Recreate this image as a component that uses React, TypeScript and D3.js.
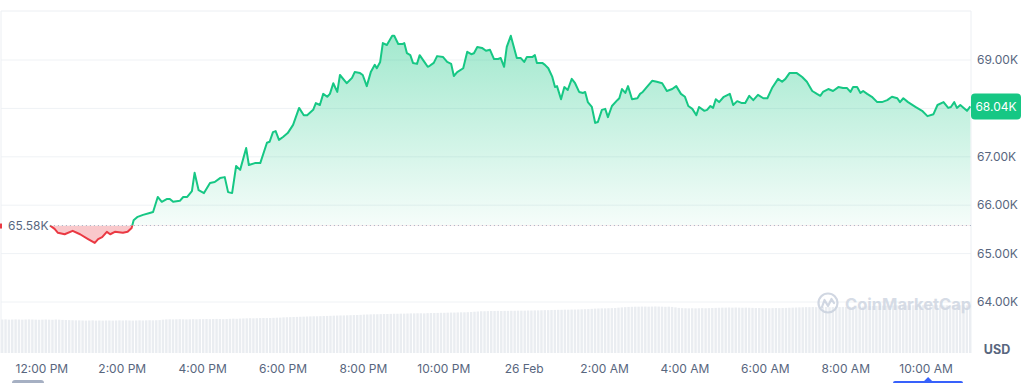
import React from "react";
import * as d3 from "d3";

// Price series: minutes after 12:00 PM (25 Feb) and price in thousands USD
const minutes = [
  12, 19, 24, 34, 46, 57, 69, 79, 84, 90, 97, 102, 109, 121, 128, 134, 137, 143, 151, 161,
  166, 173, 179, 187, 191, 196, 206, 211, 217, 224, 228, 234, 242, 251, 258, 266, 273, 278, 284, 290,
  296, 305, 309, 318, 326, 336, 340, 345, 349, 354, 360, 367, 375, 384, 391, 396, 405, 409, 415, 420,
  426, 430, 435, 441, 445, 455, 463, 467, 475, 479, 485, 491, 497, 500, 505, 509, 515, 523, 526, 532,
  538, 541, 545, 550, 554, 560, 564, 572, 576, 579, 585, 590, 599, 605, 611, 615, 620, 629, 635, 641,
  645, 650, 657, 663, 669, 675, 681, 685, 690, 694, 700, 709, 715, 720, 724, 732, 736, 739, 747, 751,
  756, 762, 766, 769, 775, 780, 785, 791, 796, 802, 808, 811, 815, 821, 826, 830, 836, 841, 845, 851,
  859, 862, 866, 871, 875, 881, 889, 893, 897, 903, 911, 918, 926, 933, 941, 947, 954, 960, 965, 971,
  977, 981, 989, 993, 998, 1002, 1006, 1011, 1018, 1027, 1032, 1038, 1045, 1050, 1056, 1062, 1069, 1077, 1083, 1090,
  1099, 1105, 1110, 1116, 1127, 1135, 1142, 1150, 1157, 1162, 1166, 1174, 1181, 1189, 1196, 1202, 1207, 1211, 1217, 1222,
  1226, 1232, 1239, 1247, 1254, 1262, 1269, 1277, 1281, 1286, 1293, 1304, 1314, 1322, 1331, 1337, 1346, 1353, 1357, 1362,
  1366, 1371, 1381, 1386,
];
const prices = [
  65.58, 65.51, 65.43, 65.40, 65.47, 65.40, 65.30, 65.22, 65.30, 65.34, 65.45, 65.40, 65.45, 65.43, 65.45, 65.53, 65.69, 65.76, 65.80, 65.84,
  65.86, 66.17, 66.07, 66.13, 66.13, 66.07, 66.09, 66.17, 66.17, 66.29, 66.67, 66.31, 66.25, 66.46, 66.48, 66.56, 66.58, 66.27, 66.25, 66.81,
  66.73, 67.18, 66.83, 66.87, 66.87, 67.29, 67.31, 67.51, 67.53, 67.35, 67.41, 67.49, 67.66, 68.01, 67.86, 67.86, 67.97, 68.11, 68.07, 68.30,
  68.24, 68.30, 68.52, 68.34, 68.69, 68.52, 68.63, 68.75, 68.73, 68.69, 68.46, 68.75, 68.90, 68.83, 68.96, 69.35, 69.31, 69.50, 69.50, 69.33,
  69.33, 69.35, 69.14, 69.10, 68.94, 68.92, 69.10, 68.94, 68.86, 68.88, 68.94, 69.08, 69.06, 68.96, 68.92, 68.67, 68.75, 68.83, 69.17, 69.12,
  69.14, 69.27, 69.25, 69.19, 69.21, 69.02, 69.02, 69.04, 68.86, 69.27, 69.50, 69.04, 69.04, 68.96, 69.06, 69.06, 69.10, 68.94, 68.94, 68.90,
  68.83, 68.65, 68.44, 68.46, 68.19, 68.44, 68.38, 68.61, 68.52, 68.34, 68.32, 68.34, 68.13, 68.03, 67.70, 67.72, 67.97, 67.99, 67.82, 68.05,
  68.17, 68.21, 68.40, 68.32, 68.46, 68.19, 68.21, 68.30, 68.34, 68.44, 68.57, 68.55, 68.52, 68.36, 68.40, 68.46, 68.30, 68.24, 68.05, 67.99,
  67.86, 68.03, 67.95, 67.97, 68.05, 68.01, 68.19, 68.13, 68.24, 68.30, 68.07, 68.15, 68.11, 68.11, 68.26, 68.17, 68.28, 68.21, 68.21, 68.42,
  68.61, 68.55, 68.61, 68.73, 68.73, 68.65, 68.55, 68.36, 68.30, 68.26, 68.34, 68.40, 68.36, 68.44, 68.42, 68.42, 68.34, 68.44, 68.44, 68.32,
  68.36, 68.30, 68.24, 68.13, 68.13, 68.17, 68.24, 68.21, 68.13, 68.21, 68.13, 68.03, 67.95, 67.84, 67.88, 68.07, 68.13, 68.01, 68.03, 68.13,
  68.01, 68.07, 67.95, 68.04,
];

// 5-minute volume bars (billions USD), one row per hour, first bar at -61 min
const volumes = [
  27.9, 28.0, 27.8, 27.9, 28.0, 27.9, 27.8, 27.9, 28.0, 27.9, 27.8, 27.7,
  27.8, 27.9, 27.8, 27.7, 27.9, 27.8, 27.6, 27.5, 27.4, 27.3, 27.2, 27.2,
  27.1, 27.0, 27.1, 27.2, 27.0, 27.1, 27.0, 27.1, 27.1, 27.0, 27.1, 27.2,
  27.1, 27.2, 27.1, 27.0, 27.1, 27.2, 27.1, 27.2, 27.3, 27.2, 27.3, 27.4,
  27.8, 28.0, 28.1, 28.0, 28.1, 28.2, 28.1, 28.0, 28.1, 28.2, 28.1, 28.2,
  28.2, 28.3, 28.2, 28.3, 28.4, 28.3, 28.2, 28.3, 28.5, 28.6, 28.5, 28.7,
  28.8, 28.9, 29.0, 28.9, 29.0, 29.1, 29.2, 29.1, 29.2, 29.3, 29.4, 29.5,
  29.7, 29.8, 29.9, 30.0, 30.1, 30.2, 30.3, 30.4, 30.5, 30.6, 30.6, 30.7,
  30.8, 30.9, 31.0, 31.1, 31.2, 31.3, 31.3, 31.4, 31.5, 31.6, 31.7, 31.8,
  32.0, 32.1, 32.2, 32.3, 32.3, 32.4, 32.5, 32.5, 32.6, 32.7, 32.7, 32.8,
  32.8, 32.9, 33.0, 33.0, 33.1, 33.1, 33.0, 33.2, 33.3, 33.3, 33.4, 33.5,
  33.5, 33.6, 33.7, 33.7, 33.8, 33.9, 33.9, 34.0, 34.2, 34.4, 34.6, 34.8,
  34.8, 34.9, 35.0, 35.0, 35.1, 35.0, 35.1, 35.1, 35.2, 35.2, 35.3, 35.3,
  35.3, 35.4, 35.4, 35.5, 35.5, 35.6, 35.7, 35.7, 35.8, 35.9, 36.0, 36.0,
  36.1, 36.1, 36.2, 36.2, 36.3, 36.4, 36.5, 36.6, 36.8, 37.0, 37.1, 37.2,
  37.2, 37.3, 37.4, 37.5, 37.8, 38.0, 38.2, 38.4, 38.5, 38.6, 38.6, 38.7,
  38.7, 38.6, 38.7, 38.8, 38.7, 38.6, 38.5, 38.6, 38.4, 38.0, 37.6, 37.4,
  37.3, 37.2, 37.3, 37.2, 37.3, 37.4, 37.3, 37.4, 37.5, 37.6, 37.7, 37.8,
  37.8, 37.9, 37.8, 37.9, 37.8, 37.7, 37.8, 37.7, 37.6, 37.5, 37.5, 37.4,
  37.4, 37.3, 37.4, 37.5, 37.4, 37.5, 37.6, 37.7, 37.8, 37.9, 38.0, 38.1,
  38.2, 38.2, 38.3, 38.2, 38.1, 38.2, 38.3, 38.2, 38.3, 38.4, 38.3, 38.4,
  38.4, 38.5, 38.4, 38.5, 38.6, 38.7, 38.9, 39.0, 39.2, 39.3, 39.4, 39.5,
  39.5, 39.6, 39.6, 39.7, 39.6, 39.7, 39.6, 39.7, 39.8, 39.7, 39.8, 39.8,
  39.8, 39.9, 39.8, 39.9, 39.8, 39.7, 39.8, 39.9, 40.0, 39.9, 39.8, 39.9,
  39.8, 39.7,
];

const yTicks = [64, 65, 66, 67, 68, 69];
const basePrice = 65.58;
const lastPrice = 68.04;

const W = 1029;
const H = 383;
const GREEN = "#16c784";
const RED = "#ea3943";
const TEXT = "#58667e";
const GRID = "#eff2f5";
const FONT = "Inter, 'Noto Sans', sans-serif";

const START = new Date(2024, 1, 25, 12, 0, 0);
const at = (m: number) => new Date(START.getTime() + m * 60000);

export default function App() {
  const left = 1;
  const right = 971;
  const top = 11;
  const bottom = 353;

  const x = d3.scaleTime().domain([at(-61), at(1387)]).range([left, right]);
  const y = d3.scaleLinear().domain([64, 69]).range([302, 60]);
  const vy = d3.scaleLinear().domain([0, 40]).range([bottom, 305]);

  const data = minutes.map((m, i) => ({ t: at(m), p: prices[i] }));
  const yBase = y(basePrice);

  const line = d3
    .line<{ t: Date; p: number }>()
    .x((d) => x(d.t))
    .y((d) => y(d.p));
  const area = d3
    .area<{ t: Date; p: number }>()
    .x((d) => x(d.t))
    .y0(yBase)
    .y1((d) => y(d.p));

  const linePath = line(data) || "";
  const areaPath = area(data) || "";

  const xTicks = x.ticks(d3.timeHour.every(2) as any);
  const fmtTime = d3.timeFormat("%-I:%M %p");
  const fmtDay = d3.timeFormat("%-d %b");
  const tickLabel = (d: Date) => (d.getHours() === 0 ? fmtDay(d) : fmtTime(d));

  const barStep = x(at(5)) - x(at(0));
  const firstX = data[0];
  const lastX = x(data[data.length - 1].t);

  return (
    <svg
      width={W}
      height={H}
      style={{ position: "absolute", left: 0, top: 0, background: "#fff" }}
      fontFamily={FONT}
    >
      <defs>
        <linearGradient id="gUp" gradientUnits="userSpaceOnUse" x1="0" x2="0" y1={y(69.5)} y2={yBase}>
          <stop offset="0" stopColor={GREEN} stopOpacity={0.4} />
          <stop offset="1" stopColor={GREEN} stopOpacity={0.04} />
        </linearGradient>
        <clipPath id="cUp">
          <rect x={0} y={0} width={W} height={yBase} />
        </clipPath>
        <clipPath id="cDown">
          <rect x={0} y={yBase} width={W} height={H - yBase} />
        </clipPath>
      </defs>

      {/* volume bars */}
      <g>
        {volumes.map((v, i) => {
          const t = at(-61 + 5 * i);
          const bx = x(t);
          return (
            <rect
              key={i}
              x={bx}
              y={vy(v)}
              width={Math.max(0.5, Math.min(barStep * 0.72, right - bx))}
              height={bottom - vy(v)}
              fill="#eaedf1"
            />
          );
        })}
      </g>

      {/* grid */}
      {yTicks.map((t) => (
        <line key={t} x1={left} x2={right} y1={y(t)} y2={y(t)} stroke={GRID} strokeWidth={1} />
      ))}
      <line x1={left} x2={right} y1={top} y2={top} stroke="#eceff3" />
      <line x1={left} x2={left} y1={top} y2={bottom} stroke="#eceff3" />
      <line x1={right} x2={right} y1={top} y2={bottom} stroke="#eceff3" />

      {/* watermark */}
      <g opacity={0.85}>
        <circle cx={828} cy={303} r={9.5} fill="none" stroke="#c9d1de" strokeWidth={2.2} />
        <path
          d="M822 307 L824.5 300 L828 306 L831.5 299 L834 303"
          fill="none"
          stroke="#c9d1de"
          strokeWidth={2.2}
          strokeLinejoin="round"
          strokeLinecap="round"
        />
        <text x={845} y={309.5} fontSize={16.5} fontWeight={700} fill="#cfd6e2">
          CoinMarketCap
        </text>
      </g>

      {/* areas */}
      <path d={areaPath} fill="url(#gUp)" clipPath="url(#cUp)" />
      <path d={areaPath} fill={RED} fillOpacity={0.28} clipPath="url(#cDown)" />

      {/* baseline */}
      <line
        x1={x(firstX.t)}
        x2={right}
        y1={yBase}
        y2={yBase}
        stroke="#a6b0c3"
        strokeWidth={1}
        strokeDasharray="1 3"
      />

      {/* price line */}
      <path d={linePath} fill="none" stroke={GREEN} strokeWidth={2} strokeLinejoin="round" clipPath="url(#cUp)" />
      <path d={linePath} fill="none" stroke={RED} strokeWidth={2} strokeLinejoin="round" clipPath="url(#cDown)" />

      {/* base label */}
      <rect x={0} y={yBase - 2} width={2} height={5} fill={RED} />
      <text x={8} y={yBase} dy="0.35em" fontSize={12} fill={TEXT}>
        {basePrice.toFixed(2)}K
      </text>

      {/* y axis labels */}
      {yTicks.map((t) => (
        <text key={t} x={977} y={y(t)} dy="0.35em" fontSize={12} fill={TEXT}>
          {t.toFixed(2)}K
        </text>
      ))}

      {/* last price tag */}
      <rect x={right} y={y(lastPrice) - 13} width={50} height={26} rx={4} fill={GREEN} />
      <text x={right + 25} y={y(lastPrice)} dy="0.35em" textAnchor="middle" fontSize={12} fill="#fff">
        {lastPrice.toFixed(2)}K
      </text>

      <text x={997} y={350} dy="0.35em" textAnchor="middle" fontSize={12.5} fontWeight={700} fill={TEXT}>
        USD
      </text>

      {/* x axis labels */}
      {xTicks.map((d, i) => (
        <text key={i} x={x(d)} y={369} dy="0.35em" textAnchor="middle" fontSize={12} fill={TEXT}>
          {tickLabel(d)}
        </text>
      ))}

      {/* range slider bits */}
      <rect x={12} y={380} width={32} height={6} rx={3} fill="#a6b0c3" />
      <rect x={893} y={381} width={70} height={6} rx={2} fill="#3861fb" />
      <path d={`M${x(at(1320)) + 2} 377 L${x(at(1320)) + 6} 381 L${x(at(1320)) - 2} 381 Z`} fill="#3861fb" />
      {lastX > 0 ? null : null}
    </svg>
  );
}
